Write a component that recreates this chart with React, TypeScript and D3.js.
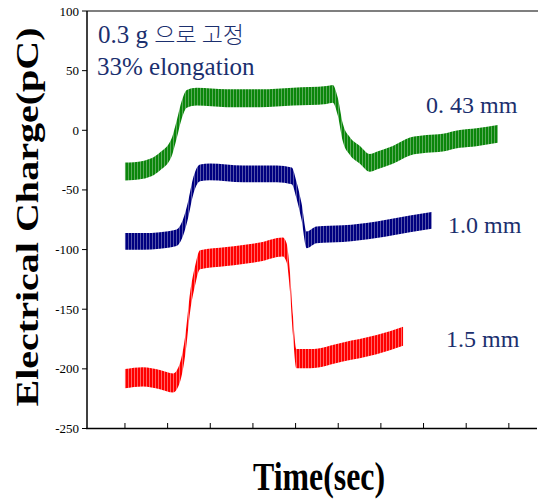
import React from "react";
import * as d3 from "d3";

// readings taken off the trace centre lines (time in arbitrary sec units, charge in pC)
const t043 = [10, 14.2, 18.2, 20.9, 22.1, 23.3, 24.5, 26.8, 33.8, 41.6, 49.4, 57.3, 58.7, 59.9, 61.1, 62.7, 65.1, 67.4, 69, 72.8, 76.8, 80.7, 84.5, 88.5, 92.4, 97.4];
const v043 = [-34.6, -33.2, -26.2, -14.7, 0.3, 17.1, 26.3, 28.2, 26.9, 26.9, 28.2, 29.6, 30.5, 19.8, -2.2, -13.1, -20.6, -27.3, -25.4, -20.6, -13.6, -11.4, -10.3, -7.2, -5.8, -3.0];

const t10 = [10, 14.2, 18.2, 22.1, 23.6, 24.8, 25.9, 27.6, 29.9, 37.7, 45.6, 49.1, 50.2, 51.4, 52.6, 54.9, 61.1, 69, 76.8, 81.9];
const v10 = [-93.2, -93.2, -92.4, -90.1, -81.7, -66.6, -48.2, -35.7, -34.8, -36.5, -36.5, -38.2, -49.9, -68.1, -91.8, -87.6, -86.7, -83.4, -78.4, -75.6];

const t15 = [10, 14.2, 18.2, 21.3, 22.9, 24.1, 25.3, 26.4, 27.6, 33.8, 41.6, 47, 47.9, 48.7, 49.4, 50.2, 53.4, 61.1, 69, 75.2];
const v15 = [-208.2, -206.7, -209, -211.8, -203.1, -181.1, -143.4, -122.5, -108.5, -105.8, -102.1, -97.9, -102.7, -127.8, -164.4, -191.4, -191.4, -185.8, -179.7, -172.7];

// half of the peak-to-peak ripple, pC
const ripple = [7.5, 7, 8];

const seriesNames = ["0. 43 mm", "1.0 mm", "1.5 mm"];
const yTicks = [100, 50, 0, -50, -100, -150, -200, -250];
const xTicks = [10, 20, 30, 40, 50, 60, 70, 80, 90, 100];

const colors = ["#0b860b", "#000080", "#ff0000"];
const tints = ["#6fb46f", "#6a6ab4", "#ff8080"];
const navy = "#1b2f6e";
const serif = "'Liberation Serif', 'Times New Roman', serif";

export default function App() {
  const x = d3.scaleLinear().domain([1.1, 106.6]).range([87, 537]);
  const y = d3.scaleLinear().domain([-250, 100]).range([428.5, 11]);

  const series = [
    { t: t043, v: v043 },
    { t: t10, v: v10 },
    { t: t15, v: v15 },
  ];

  const paths = series.map((s, i) => {
    const pts = s.t.map((t, j) => [t, s.v[j]] as [number, number]);
    const area = d3
      .area<[number, number]>()
      .x((d) => x(d[0]))
      .y0((d) => y(d[1] - ripple[i]))
      .y1((d) => y(d[1] + ripple[i]))
      .curve(d3.curveMonotoneX);
    return area(pts) || "";
  });

  return (
    <svg width={538} height={500} style={{ position: "absolute", left: 0, top: 0, background: "#fff" }}>
      <defs>
        {colors.map((c, i) => (
          <pattern key={i} id={"osc" + i} patternUnits="userSpaceOnUse" width={3} height={20}>
            <rect width={3} height={20} fill={tints[i]} />
            <rect width={2.2} height={20} fill={c} />
          </pattern>
        ))}
      </defs>

      {/* frame */}
      <line x1={87} x2={538} y1={11} y2={11} stroke="#555" strokeWidth={1.5} />
      <line x1={87} x2={87} y1={11} y2={429} stroke="#000" strokeWidth={1.5} />
      <line x1={86} x2={537} y1={428.5} y2={428.5} stroke="#000" strokeWidth={1.5} />

      {yTicks.map((v) => (
        <g key={v}>
          <line x1={82} x2={87} y1={y(v)} y2={y(v)} stroke="#000" strokeWidth={1} />
          <text x={79} y={y(v) + 4.5} textAnchor="end" fontFamily={serif} fontSize={13} fill="#000">
            {v}
          </text>
        </g>
      ))}
      {xTicks.map((t) => (
        <line key={t} x1={x(t)} x2={x(t)} y1={428.5} y2={423} stroke="#000" strokeWidth={1} />
      ))}

      {paths.map((p, i) => (
        <path key={i} d={p} fill={`url(#osc${i})`} />
      ))}

      <text x={98} y={43} fontFamily={serif} fontSize={25} fill={navy}>
        0.3 g{" "}
        <tspan fontFamily="'Noto Sans CJK KR', sans-serif" fontSize={23} fontWeight={300}>
          으로 고정
        </tspan>
      </text>
      <text x={97} y={75} fontFamily={serif} fontSize={25} fill={navy}>
        33% elongation
      </text>

      <text x={426} y={113} fontFamily={serif} fontSize={24} fill={navy}>
        {seriesNames[0]}
      </text>
      <text x={448} y={233} fontFamily={serif} fontSize={24} fill={navy}>
        {seriesNames[1]}
      </text>
      <text x={446} y={347} fontFamily={serif} fontSize={24} fill={navy}>
        {seriesNames[2]}
      </text>

      <text
        transform="translate(38,217) rotate(-90)"
        textAnchor="middle"
        fontFamily={serif}
        fontWeight="bold"
        fontSize={31}
        textLength={379}
        lengthAdjust="spacingAndGlyphs"
        fill="#000"
      >
        Electrical Charge(pC)
      </text>
      <text
        x={319}
        y={490}
        textAnchor="middle"
        fontFamily={serif}
        fontWeight="bold"
        fontSize={41}
        textLength={132}
        lengthAdjust="spacingAndGlyphs"
        fill="#000"
      >
        Time(sec)
      </text>
    </svg>
  );
}
